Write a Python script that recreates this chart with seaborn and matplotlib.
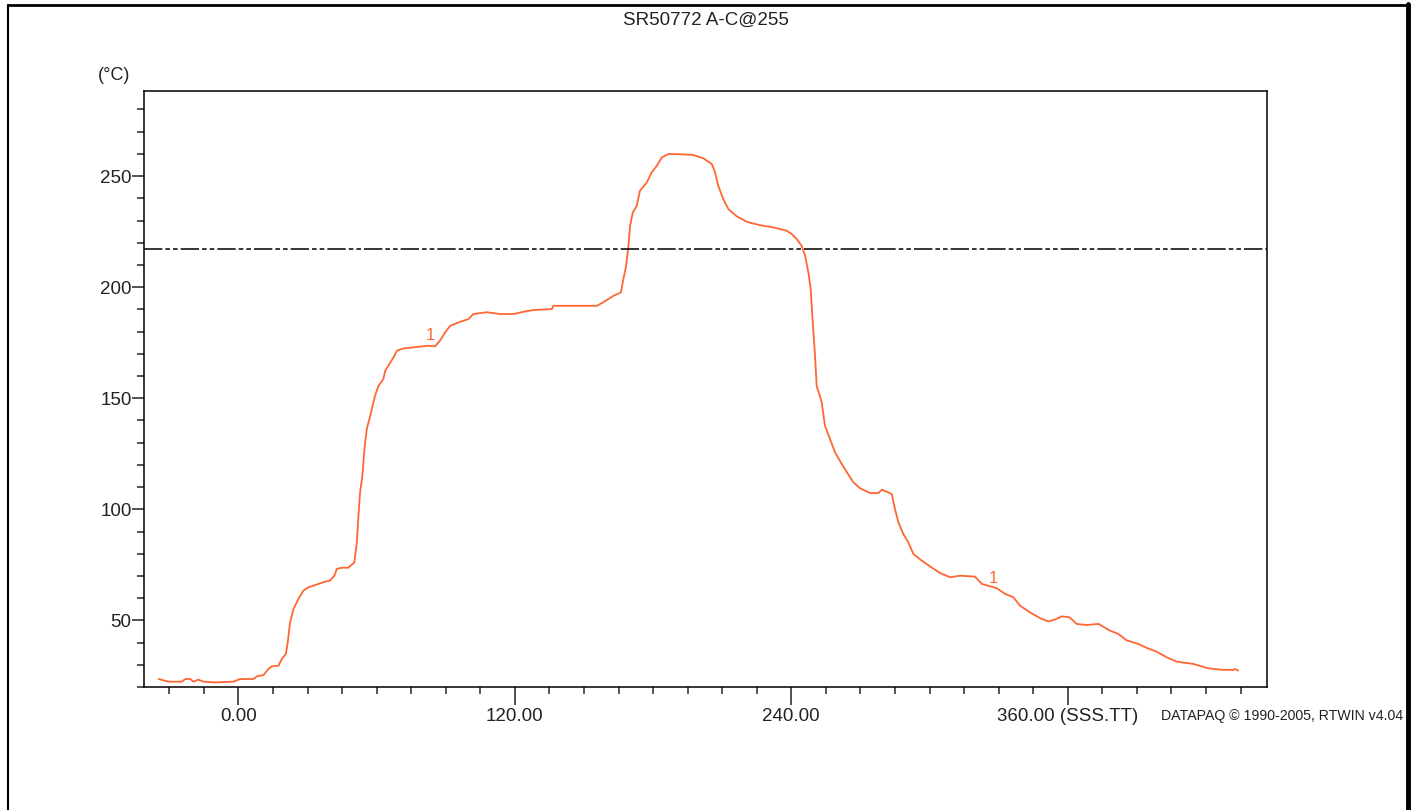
import matplotlib
matplotlib.use("Agg")
import matplotlib.pyplot as plt
from matplotlib.ticker import MultipleLocator, FixedLocator, FixedFormatter
from matplotlib.lines import Line2D
import seaborn as sns
import pandas as pd

# profile: time (s) and temperature (degC)
time_s = [-34.7, -30.4, -24.6, -23.1, -21.0, -19.5, -17.4, -15.2, -10.1, -2.2,
          0.7, 6.5, 8.0, 10.9, 13.0, 14.5, 17.4, 18.8, 20.6, 21.4,
          22.4, 23.9, 26.0, 28.2, 30.4, 33.3, 37.6, 39.8, 41.7, 42.7,
          44.9, 47.7, 50.3, 51.4, 52.1, 52.8, 53.8, 54.7, 55.7, 57.2,
          59.3, 60.8, 62.9, 63.7, 67.3, 68.8, 71.7, 76.0, 81.8, 85.4,
          87.5, 89.7, 91.9, 96.2, 99.8, 102.0, 107.8, 113.6, 119.4, 123.7,
          128.0, 136.0, 136.7, 155.6, 158.4, 162.8, 166.0, 167.1, 168.3, 169.3,
          170.0, 171.2, 172.9, 174.3, 177.3, 179.4, 181.6, 183.8, 186.6, 190.3,
          197.5, 201.8, 205.5, 206.9, 208.3, 210.5, 212.7, 216.3, 220.7, 226.4,
          232.2, 238.0, 240.2, 242.4, 244.5, 246.0, 247.4, 248.4, 249.3, 250.3,
          251.0, 253.2, 254.6, 256.8, 259.0, 261.9, 264.1, 266.9, 269.8, 274.2,
          277.8, 279.3, 283.6, 285.0, 286.5, 288.6, 290.8, 293.0, 296.6, 300.2,
          304.6, 308.9, 313.2, 319.7, 322.7, 329.2, 332.8, 336.4, 339.3, 343.6,
          348.0, 351.6, 354.5, 357.4, 360.7, 363.9, 368.2, 373.3, 378.3, 381.9,
          385.6, 390.6, 394.3, 398.6, 402.9, 407.3, 414.5, 421.0, 427.5, 431.9,
          432.6, 434.0]
temp_c = [23.6, 22.4, 22.4, 23.6, 23.6, 22.4, 23.3, 22.4, 22.1, 22.4,
          23.6, 23.6, 24.8, 25.4, 28.1, 29.3, 29.6, 32.6, 34.9, 40.2,
          49.1, 55.1, 59.6, 63.4, 64.9, 65.9, 67.4, 67.9, 70.2, 73.2,
          73.7, 73.7, 76.1, 85.1, 97.1, 107.6, 115.1, 127.1, 136.1, 142.1,
          151.1, 155.6, 158.6, 162.3, 168.4, 171.4, 172.4, 172.9, 173.6, 173.4,
          175.9, 179.6, 182.6, 184.4, 185.6, 187.9, 188.7, 187.9, 187.9, 188.9,
          189.7, 190.1, 191.6, 191.6, 193.2, 196.1, 197.6, 203.6, 209.6, 218.6,
          227.6, 233.7, 236.6, 243.4, 247.2, 251.7, 254.6, 258.4, 259.9, 259.9,
          259.5, 258.0, 255.4, 251.7, 245.6, 239.6, 235.1, 231.9, 229.4, 227.9,
          226.9, 225.4, 223.9, 221.6, 218.6, 214.1, 206.7, 199.1, 184.2, 169.1,
          155.6, 148.2, 137.6, 131.6, 125.6, 120.4, 116.7, 112.2, 109.5, 107.3,
          107.3, 108.8, 106.9, 100.1, 94.1, 88.9, 85.1, 79.9, 76.9, 74.3,
          71.3, 69.4, 70.1, 69.7, 66.4, 64.5, 61.9, 60.4, 56.6, 53.6,
          51.0, 49.5, 50.4, 51.8, 51.4, 48.4, 47.9, 48.4, 45.4, 43.9,
          41.0, 39.4, 37.6, 35.9, 33.4, 31.4, 30.4, 28.4, 27.7, 27.7,
          28.1, 27.4]

limit_temp = 217.1
probe_label_t = [83.2, 327.7]
probe_label_v = [178.1, 68.9]
major_x = [0, 120, 240, 360]
major_x_labels = ["0.00", "120.00", "240.00", "360.00 (SSS.TT)"]

title = "SR50772 A-C@255"
credit = "DATAPAQ \u00a9 1990-2005, RTWIN v4.04"

sns.set_style("ticks")
plt.rcParams['font.family'] = ['Liberation Sans', 'DejaVu Sans']

df = pd.DataFrame({"t": time_s, "T": temp_c})

fig = plt.figure(figsize=(14.16, 8.10), dpi=100)
ax = fig.add_axes([144 / 1416, 1 - 687 / 810, (1267 - 144) / 1416, (687 - 91) / 810])

sns.lineplot(data=df, x="t", y="T", ax=ax, color="#ff6633", linewidth=1.3,
             estimator=None, sort=False)
ax.axhline(limit_temp, color="black", linewidth=1.1, linestyle=(0, (12, 2, 3, 2, 3, 2)))

for t, v in zip(probe_label_t, probe_label_v):
    ax.text(t, v, "1", color="#ff6633", fontsize=12, ha="center", va="center")

ax.set_xlim(-41, 446.5)
ax.set_ylim(20, 288.3)
ax.set_xlabel("")
ax.set_ylabel("")

ax.xaxis.set_major_locator(FixedLocator(major_x))
ax.xaxis.set_major_formatter(FixedFormatter(major_x_labels))
ax.xaxis.set_minor_locator(MultipleLocator(15))
ax.yaxis.set_major_locator(MultipleLocator(50))
ax.yaxis.set_minor_locator(MultipleLocator(10))

ax.tick_params(axis="x", which="major", length=13, width=1.1, pad=2, labelsize=13.5, colors="#222222")
ax.tick_params(axis="x", which="minor", length=5, width=1.1)
ax.tick_params(axis="y", which="major", length=9, width=1.1, pad=0, labelsize=13.5, colors="#222222")
ax.tick_params(axis="y", which="minor", length=5, width=1.1)

for s in ax.spines.values():
    s.set_color("black")
    s.set_linewidth(1.1)

fig.text(706 / 1416, 1 - 20 / 810, title, ha="center", va="center", fontsize=13.5, color="#222222")
fig.text(114 / 1416, 1 - 75 / 810, "(\u00b0C)", ha="center", va="center", fontsize=13, color="#222222")
fig.text(1403 / 1416, 1 - 716 / 810, credit, ha="right", va="center", fontsize=10.2,
         color="#222222", family=["Liberation Sans Narrow", "Liberation Sans", "DejaVu Sans"])

# page frame
fig.add_artist(Line2D([8 / 1416, 1406 / 1416], [1 - 5 / 810, 1 - 5 / 810], transform=fig.transFigure,
                      color="black", linewidth=2))
fig.add_artist(Line2D([8 / 1416, 8 / 1416], [0, 1 - 5 / 810], transform=fig.transFigure,
                      color="black", linewidth=1.5))
fig.add_artist(Line2D([1408 / 1416, 1408 / 1416], [0, 1 - 4 / 810], transform=fig.transFigure,
                      color="black", linewidth=3.5))

fig.savefig("out.png", dpi=100)
